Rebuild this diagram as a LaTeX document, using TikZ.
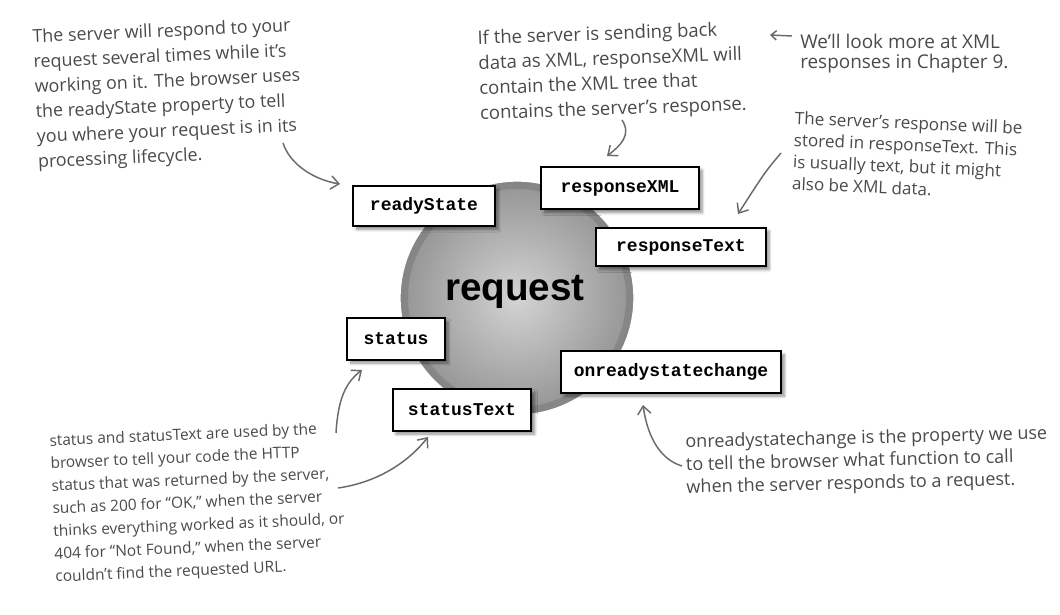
\documentclass[tikz,border=0pt]{standalone}
\usepackage{fontspec}
\setmainfont{Open Sans}
\newfontfamily\boxfont{Liberation Mono}
\newfontfamily\titlefont{Liberation Sans}
\usetikzlibrary{arrows.meta,shadows.blur}
\definecolor{handgray}{HTML}{4A4A4A}
\definecolor{arrowgray}{HTML}{6A6A6A}
\tikzset{
  propbox/.style={draw=black,line width=1.5pt,fill=white,inner sep=0pt,
    font=\boxfont\bfseries\fontsize{13.5}{15}\selectfont,
    blur shadow={shadow xshift=2.5pt,shadow yshift=-2.5pt,shadow blur steps=6,shadow opacity=45}},
  note/.style={anchor=north west,align=left,text=handgray,inner sep=0pt},
  pointer/.style={draw=arrowgray,line width=1.1pt,-{Straight Barb[length=6pt,width=10pt]}}
}
\begin{document}
\begin{tikzpicture}[x=0.75pt,y=-0.75pt]
\useasboundingbox (0,0) rectangle (1060,614);

\shade[inner color=black!17,outer color=black!42] (517,298) circle (117);
\draw[black!55,line width=6pt,opacity=0.45] (517,298) circle (113);
\draw[white,line width=1pt] (517,298) circle (117);
\node[font=\titlefont\bfseries\fontsize{29}{30}\selectfont] (request) at (515,292) {request};

\node[propbox,minimum width=106pt,minimum height=30pt] (readystate) at (424,206) {readyState};
\node[propbox,minimum width=118pt,minimum height=32pt] (responsexml) at (620,188) {responseXML};
\node[propbox,minimum width=127pt,minimum height=29pt] (responsetext) at (681,247) {responseText};
\node[propbox,minimum width=73pt,minimum height=31pt] (status) at (396,339) {status};
\node[propbox,minimum width=104pt,minimum height=31pt] (statustext) at (462,410) {statusText};
\node[propbox,minimum width=165pt,minimum height=31pt] (onready) at (671,372) {onreadystatechange};

\node[note,rotate=2.5,font=\fontsize{13.4}{18.75}\selectfont] (readynote) at (32,29) {The server will respond to your\\request several times while it’s\\working on it. The browser uses\\the readyState property to tell\\you where your request is in its\\processing lifecycle.};
\node[note,rotate=2,font=\fontsize{13.9}{18.75}\selectfont] (xmlnote) at (477,30) {If the server is sending back\\data as XML, responseXML will\\contain the XML tree that\\contains the server’s response.};
\node[note,font=\fontsize{14.2}{15}\selectfont] (chapternote) at (800,34) {We’ll look more at XML\\responses in Chapter 9.};
\node[note,rotate=-2.5,font=\fontsize{12.8}{16.4}\selectfont] (textnote) at (795,111) {The server’s response will be\\stored in responseText. This\\is usually text, but it might\\also be XML data.};
\node[note,rotate=2.5,font=\fontsize{11.6}{17}\selectfont] (statusnote) at (49,434) {status and statusText are used by the\\browser to tell your code the HTTP\\status that was returned by the server,\\such as 200 for “OK,” when the server\\thinks everything worked as it should, or\\404 for “Not Found,” when the server\\couldn’t find the requested URL.};
\node[note,rotate=1.4,font=\fontsize{13.5}{17}\selectfont] (onreadynote) at (685,434) {onreadystatechange is the property we use\\to tell the browser what function to call\\when the server responds to a request.};

\coordinate (a1s) at (283,143);
\coordinate (a1e) at (340,184);
\coordinate (a2s) at (622,120);
\coordinate (a2e) at (607,156);
\coordinate (a3s) at (792,36);
\coordinate (a3e) at (770,35);
\coordinate (a4s) at (781,153);
\coordinate (a4e) at (738,214);
\coordinate (a5s) at (336,433);
\coordinate (a5e) at (362,370);
\coordinate (a6s) at (338,488);
\coordinate (a6e) at (428,437);
\coordinate (a7s) at (682,466);
\coordinate (a7e) at (643,405);

\draw[pointer] (a1s) .. controls (290,165) and (315,180) .. (a1e);
\draw[pointer] (a2s) .. controls (632,135) and (620,146) .. (a2e);
\draw[pointer,-{Straight Barb[length=4pt,width=7pt]}] (a3s) -- (a3e);
\draw[pointer] (a4s) .. controls (765,172) .. (a4e);
\draw[pointer] (a5s) .. controls (338,400) and (345,383) .. (a5e);
\draw[pointer] (a6s) .. controls (380,482) and (410,460) .. (a6e);
\draw[pointer] (a7s) .. controls (662,460) and (648,440) .. (a7e);
\end{tikzpicture}
\end{document}
